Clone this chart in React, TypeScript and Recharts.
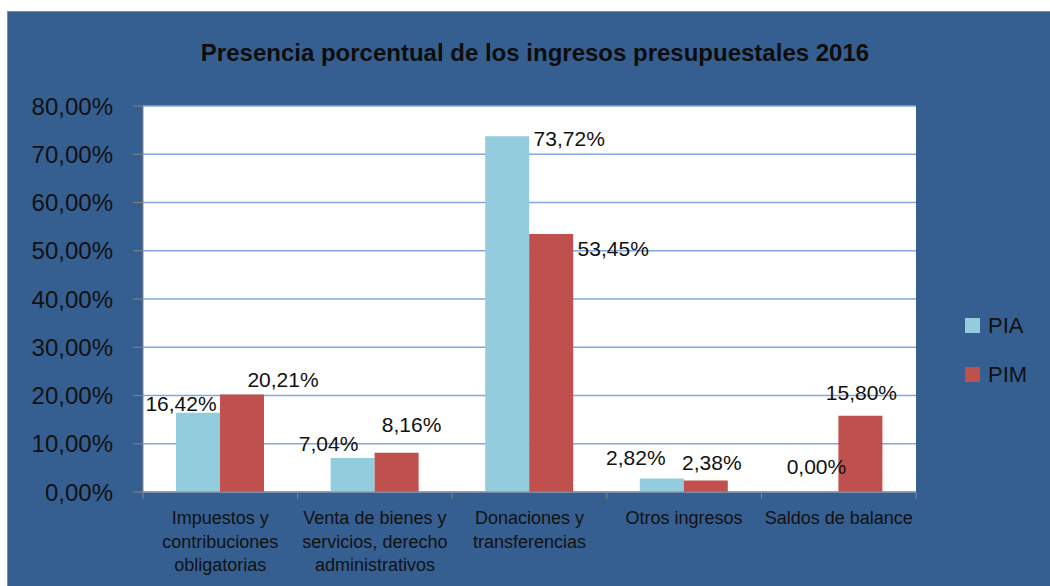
import React from "react";
import { BarChart, Bar, XAxis, YAxis, CartesianGrid, LabelList, Legend } from "recharts";

// Budget revenue categories (line breaks are where the axis label wraps)
const categories = [
  "Impuestos y\ncontribuciones\nobligatorias",
  "Venta de bienes y\nservicios, derecho\nadministrativos",
  "Donaciones y\ntransferencias",
  "Otros ingresos",
  "Saldos de balance",
];

// Share of total revenue, in percent
const piaValues = [16.42, 7.04, 73.72, 2.82, 0.0];
const pimValues = [20.21, 8.16, 53.45, 2.38, 15.8];

const yTicks = [0, 10, 20, 30, 40, 50, 60, 70, 80];

// Placement of each value label relative to the top centre of its bar: [dx, dy]
const piaLabelOffsets = [
  [-17, -9],
  [-24, -15],
  [62, 2],
  [-26, -21],
  [0, -25],
];
const pimLabelOffsets = [
  [41, -15],
  [15, -28],
  [62, 14],
  [6, -18],
  [1, -23],
];

const data = categories.map((name, i) => ({
  name,
  PIA: piaValues[i],
  PIM: pimValues[i],
}));

const FONT = '"Liberation Sans", Arial, sans-serif';
const BG = "#365F91";
const AXIS = "#868686";
const GRID = "#80A7E0";
const PIA_COLOR = "#93CDDD";
const PIM_COLOR = "#C0504D";
const TEXT = "#111111";

const fmtPct = (v: number) => `${Number(v).toFixed(2).replace(".", ",")}%`;

const makeValueLabel = (offsets: number[][]) => (props: any) => {
  const { x, y, width, index, value } = props;
  const [dx, dy] = offsets[index] ?? [0, -12];
  return (
    <text
      x={Number(x) + Number(width) / 2 + dx}
      y={Number(y) + dy}
      textAnchor="middle"
      dominantBaseline="central"
      fontSize={21}
      fontFamily={FONT}
      fill={TEXT}
    >
      {fmtPct(value)}
    </text>
  );
};

const CategoryTick = (props: any) => {
  const { x, y, payload, index } = props;
  const half = payload?.offset ?? 0;
  const lines = String(payload.value).split("\n");
  const isLast = index === categories.length - 1;
  return (
    <g>
      <line x1={x - half} x2={x - half} y1={y} y2={y + 7} stroke={AXIS} strokeWidth={1} />
      {isLast && <line x1={x + half} x2={x + half} y1={y} y2={y + 7} stroke={AXIS} strokeWidth={1} />}
      <text x={x} y={y + 32} textAnchor="middle" fontSize={18} fontFamily={FONT} fill={TEXT}>
        {lines.map((l, i) => (
          <tspan key={i} x={x} dy={i === 0 ? 0 : 23.5}>
            {l}
          </tspan>
        ))}
      </text>
    </g>
  );
};

const LegendContent = (props: any) => {
  const items = props.payload || [];
  return (
    <div style={{ position: "relative", width: 90, height: 80 }}>
      {items.map((it: any, i: number) => (
        <div
          key={it.value}
          style={{
            position: "absolute",
            left: 0,
            top: i * 49,
            display: "flex",
            alignItems: "center",
            height: 15,
          }}
        >
          <div style={{ width: 15, height: 15, background: it.color, marginRight: 8 }} />
          <span style={{ fontFamily: FONT, fontSize: 22, color: TEXT, lineHeight: "15px" }}>{it.value}</span>
        </div>
      ))}
    </div>
  );
};

export default function App() {
  return (
    <div
      style={{
        position: "fixed",
        left: 7,
        top: 11,
        width: 1042,
        height: 574,
        background: BG,
        borderLeft: "1px solid #8a8a8a",
        borderTop: "1px solid #8a8a8a",
        overflow: "hidden",
      }}
    >
      <div
        style={{
          position: "absolute",
          left: 6,
          top: 29,
          width: 1042,
          textAlign: "center",
          fontFamily: FONT,
          fontWeight: "bold",
          fontSize: 24,
          lineHeight: "24px",
          color: "#0d0d0d",
          zIndex: 2,
        }}
      >
        Presencia porcentual de los ingresos presupuestales 2016
      </div>
      <BarChart
        width={1042}
        height={574}
        data={data}
        margin={{ top: 94, right: 134, bottom: 0, left: 0 }}
        barCategoryGap={33}
        barGap={0}
      >
        <CartesianGrid vertical={false} stroke={GRID} strokeWidth={1.3} fill="#ffffff" fillOpacity={1} />
        <XAxis
          dataKey="name"
          height={94}
          axisLine={{ stroke: AXIS }}
          tickLine={false}
          tickSize={0}
          tickMargin={0}
          interval={0}
          tick={<CategoryTick />}
        />
        <YAxis
          width={135}
          domain={[0, 80]}
          ticks={yTicks}
          interval={0}
          tickFormatter={(v: number) => `${v},00%`}
          axisLine={{ stroke: AXIS }}
          tickLine={{ stroke: AXIS }}
          tickSize={10}
          tickMargin={20}
          tick={{ fontSize: 24, fontFamily: FONT, fill: TEXT }}
        />
        <YAxis
          yAxisId="frame"
          orientation="right"
          width={0}
          domain={[0, 80]}
          tick={false}
          tickLine={false}
          axisLine={{ stroke: "#b0b0b0" }}
        />
        <Legend
          layout="vertical"
          align="center"
          verticalAlign="middle"
          wrapperStyle={{ left: 957, top: 306, width: 90, height: 80 }}
          content={<LegendContent />}
        />
        {/* a hairline minimum keeps the zero-value bar (and its label) in the layout */}
        <Bar dataKey="PIA" name="PIA" fill={PIA_COLOR} minPointSize={0.01} isAnimationActive={false}>
          <LabelList dataKey="PIA" content={makeValueLabel(piaLabelOffsets)} />
        </Bar>
        <Bar dataKey="PIM" name="PIM" fill={PIM_COLOR} isAnimationActive={false}>
          <LabelList dataKey="PIM" content={makeValueLabel(pimLabelOffsets)} />
        </Bar>
      </BarChart>
    </div>
  );
}
